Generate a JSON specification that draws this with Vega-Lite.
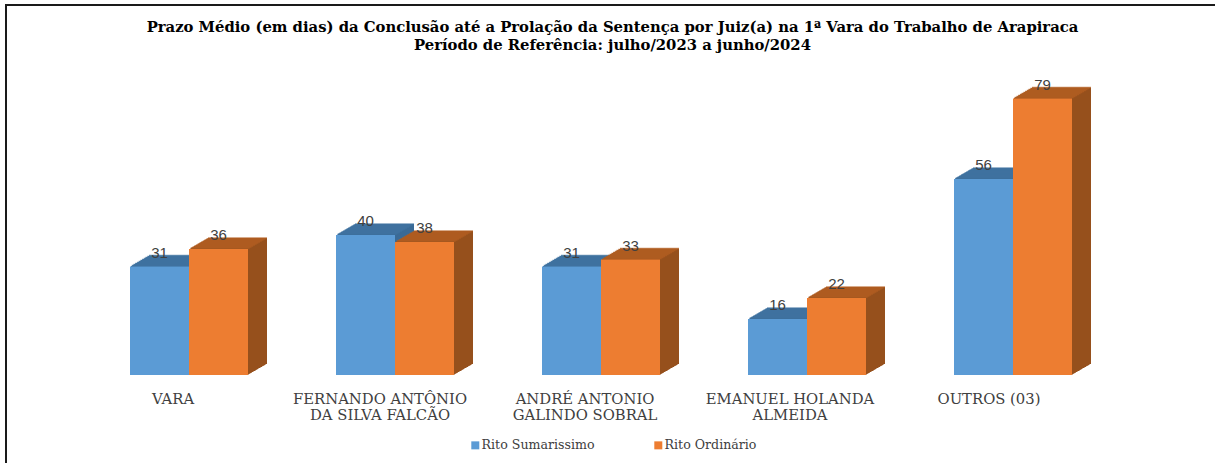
{"$schema":"https://vega.github.io/schema/vega-lite/v6.json","width":1215,"height":463,"autosize":"none","padding":{"left":6,"top":5,"right":0,"bottom":0},"background":"white","view":{"stroke":"#1a1a1a","strokeWidth":2,"fill":"white"},
"title":{"text":["Prazo Médio (em dias) da Conclusão até a Prolação da Sentença por Juiz(a) na 1ª Vara do Trabalho de Arapiraca","Período de Referência: julho/2023 a junho/2024"],"font":"DejaVu Serif","fontSize":14.8,"fontWeight":"bold","color":"#000000","anchor":"middle","dx":-1,"offset":-48,"lineHeight":18,"limit":1200},
"datasets":{"sum":[{"juiz":"VARA","rito":"Rito Sumarissimo","dias":31},{"juiz":"FERNANDO ANTÔNIO DA SILVA FALCÃO","rito":"Rito Sumarissimo","dias":40},{"juiz":"ANDRÉ ANTONIO GALINDO SOBRAL","rito":"Rito Sumarissimo","dias":31},{"juiz":"EMANUEL HOLANDA ALMEIDA","rito":"Rito Sumarissimo","dias":16},{"juiz":"OUTROS (03)","rito":"Rito Sumarissimo","dias":56}],"ord":[{"juiz":"VARA","rito":"Rito Ordinário","dias":36},{"juiz":"FERNANDO ANTÔNIO DA SILVA FALCÃO","rito":"Rito Ordinário","dias":38},{"juiz":"ANDRÉ ANTONIO GALINDO SOBRAL","rito":"Rito Ordinário","dias":33},{"juiz":"EMANUEL HOLANDA ALMEIDA","rito":"Rito Ordinário","dias":22},{"juiz":"OUTROS (03)","rito":"Rito Ordinário","dias":79}]},
"encoding":{"x":{"field":"juiz","type":"nominal","sort":["VARA","FERNANDO ANTÔNIO DA SILVA FALCÃO","ANDRÉ ANTONIO GALINDO SOBRAL","EMANUEL HOLANDA ALMEIDA","OUTROS (03)"],"title":null,"scale":{"range":[80,1110],"paddingInner":0.4272,"paddingOuter":0.2136},"axis":{"domain":false,"ticks":false,"grid":false,"offset":-85,"labelPadding":8,"labelAngle":0,"labelFont":"DejaVu Serif","labelFontSize":14.8,"labelColor":"#404040","labelLimit":0,"labelLineHeight":16,"labelBaseline":"top","labelExpr":"datum.label=='FERNANDO ANTÔNIO DA SILVA FALCÃO'?['FERNANDO ANTÔNIO','DA SILVA FALCÃO']:datum.label=='ANDRÉ ANTONIO GALINDO SOBRAL'?['ANDRÉ ANTONIO','GALINDO SOBRAL']:datum.label=='EMANUEL HOLANDA ALMEIDA'?['EMANUEL HOLANDA','ALMEIDA']:datum.label","labelOffset":{"condition":[{"test":"datum.value=='OUTROS (03)'","value":-24},{"test":"datum.value=='EMANUEL HOLANDA ALMEIDA'","value":-17},{"test":"datum.value=='FERNANDO ANTÔNIO DA SILVA FALCÃO'","value":-15}],"value":-16}}},"y":{"field":"dias","type":"quantitative","axis":null,"scale":{"domain":[0,105.7],"range":[370,0],"nice":false,"zero":true}}},
"layer":[
{"data":{"name":"sum"},"layer":[
{"mark":{"type":"bar","width":59,"xOffset":-10.5,"yOffset":-11,"color":"#3A6A96"}},{"mark":{"type":"bar","width":59,"xOffset":-11.5,"yOffset":-10.4,"color":"#3A6A96"}},{"mark":{"type":"bar","width":59,"xOffset":-12.5,"yOffset":-9.8,"color":"#3A6A96"}},{"mark":{"type":"bar","width":59,"xOffset":-13.5,"yOffset":-9.3,"color":"#3A6A96"}},{"mark":{"type":"bar","width":59,"xOffset":-14.5,"yOffset":-8.7,"color":"#3A6A96"}},{"mark":{"type":"bar","width":59,"xOffset":-15.5,"yOffset":-8.1,"color":"#3A6A96"}},{"mark":{"type":"bar","width":59,"xOffset":-16.5,"yOffset":-7.5,"color":"#3A6A96"}},{"mark":{"type":"bar","width":59,"xOffset":-17.5,"yOffset":-6.9,"color":"#3A6A96"}},{"mark":{"type":"bar","width":59,"xOffset":-18.5,"yOffset":-6.4,"color":"#3A6A96"}},{"mark":{"type":"bar","width":59,"xOffset":-19.5,"yOffset":-5.8,"color":"#3A6A96"}},{"mark":{"type":"bar","width":59,"xOffset":-20.5,"yOffset":-5.2,"color":"#3A6A96"}},{"mark":{"type":"bar","width":59,"xOffset":-21.5,"yOffset":-4.6,"color":"#3A6A96"}},{"mark":{"type":"bar","width":59,"xOffset":-22.5,"yOffset":-4.1,"color":"#3A6A96"}},{"mark":{"type":"bar","width":59,"xOffset":-23.5,"yOffset":-3.5,"color":"#3A6A96"}},{"mark":{"type":"bar","width":59,"xOffset":-24.5,"yOffset":-2.9,"color":"#3A6A96"}},{"mark":{"type":"bar","width":59,"xOffset":-25.5,"yOffset":-2.3,"color":"#3A6A96"}},{"mark":{"type":"bar","width":59,"xOffset":-26.5,"yOffset":-1.7,"color":"#3A6A96"}},{"mark":{"type":"bar","width":59,"xOffset":-27.5,"yOffset":-1.2,"color":"#3A6A96"}},{"mark":{"type":"bar","width":59,"xOffset":-28.5,"yOffset":-0.6,"color":"#3A6A96"}},
{"mark":{"type":"tick","orient":"horizontal","size":59,"thickness":1.5,"xOffset":-10.5,"yOffset":-11,"color":"#4275A3"}},{"mark":{"type":"tick","orient":"horizontal","size":59,"thickness":1.5,"xOffset":-12.2,"yOffset":-10,"color":"#4275A3"}},{"mark":{"type":"tick","orient":"horizontal","size":59,"thickness":1.5,"xOffset":-14,"yOffset":-9,"color":"#4275A3"}},{"mark":{"type":"tick","orient":"horizontal","size":59,"thickness":1.5,"xOffset":-15.7,"yOffset":-8,"color":"#4275A3"}},{"mark":{"type":"tick","orient":"horizontal","size":59,"thickness":1.5,"xOffset":-17.4,"yOffset":-7,"color":"#4275A3"}},{"mark":{"type":"tick","orient":"horizontal","size":59,"thickness":1.5,"xOffset":-19.1,"yOffset":-6,"color":"#4275A3"}},{"mark":{"type":"tick","orient":"horizontal","size":59,"thickness":1.5,"xOffset":-20.9,"yOffset":-5,"color":"#4275A3"}},{"mark":{"type":"tick","orient":"horizontal","size":59,"thickness":1.5,"xOffset":-22.6,"yOffset":-4,"color":"#4275A3"}},{"mark":{"type":"tick","orient":"horizontal","size":59,"thickness":1.5,"xOffset":-24.3,"yOffset":-3,"color":"#4275A3"}},{"mark":{"type":"tick","orient":"horizontal","size":59,"thickness":1.5,"xOffset":-26,"yOffset":-2,"color":"#4275A3"}},{"mark":{"type":"tick","orient":"horizontal","size":59,"thickness":1.5,"xOffset":-27.8,"yOffset":-1,"color":"#4275A3"}},
{"mark":{"type":"bar","width":59,"xOffset":-29.5},"encoding":{"color":{"field":"rito","type":"nominal","scale":{"domain":["Rito Sumarissimo","Rito Ordinário"],"range":["#5B9BD5","#ED7D31"]},"legend":{"title":null,"orient":"none","legendX":463,"legendY":434,"direction":"horizontal","columns":2,"symbolType":"square","symbolSize":64,"labelFont":"DejaVu Serif","labelFontSize":12.6,"labelColor":"#404040","columnPadding":57,"labelOffset":0,"labelLimit":0}}}}
]},
{"data":{"name":"ord"},"layer":[
{"mark":{"type":"bar","width":59,"xOffset":48.5,"yOffset":-11,"color":"#96501C"}},{"mark":{"type":"bar","width":59,"xOffset":47.5,"yOffset":-10.4,"color":"#96501C"}},{"mark":{"type":"bar","width":59,"xOffset":46.5,"yOffset":-9.8,"color":"#96501C"}},{"mark":{"type":"bar","width":59,"xOffset":45.5,"yOffset":-9.3,"color":"#96501C"}},{"mark":{"type":"bar","width":59,"xOffset":44.5,"yOffset":-8.7,"color":"#96501C"}},{"mark":{"type":"bar","width":59,"xOffset":43.5,"yOffset":-8.1,"color":"#96501C"}},{"mark":{"type":"bar","width":59,"xOffset":42.5,"yOffset":-7.5,"color":"#96501C"}},{"mark":{"type":"bar","width":59,"xOffset":41.5,"yOffset":-6.9,"color":"#96501C"}},{"mark":{"type":"bar","width":59,"xOffset":40.5,"yOffset":-6.4,"color":"#96501C"}},{"mark":{"type":"bar","width":59,"xOffset":39.5,"yOffset":-5.8,"color":"#96501C"}},{"mark":{"type":"bar","width":59,"xOffset":38.5,"yOffset":-5.2,"color":"#96501C"}},{"mark":{"type":"bar","width":59,"xOffset":37.5,"yOffset":-4.6,"color":"#96501C"}},{"mark":{"type":"bar","width":59,"xOffset":36.5,"yOffset":-4.1,"color":"#96501C"}},{"mark":{"type":"bar","width":59,"xOffset":35.5,"yOffset":-3.5,"color":"#96501C"}},{"mark":{"type":"bar","width":59,"xOffset":34.5,"yOffset":-2.9,"color":"#96501C"}},{"mark":{"type":"bar","width":59,"xOffset":33.5,"yOffset":-2.3,"color":"#96501C"}},{"mark":{"type":"bar","width":59,"xOffset":32.5,"yOffset":-1.7,"color":"#96501C"}},{"mark":{"type":"bar","width":59,"xOffset":31.5,"yOffset":-1.2,"color":"#96501C"}},{"mark":{"type":"bar","width":59,"xOffset":30.5,"yOffset":-0.6,"color":"#96501C"}},
{"mark":{"type":"tick","orient":"horizontal","size":59,"thickness":1.5,"xOffset":48.5,"yOffset":-11,"color":"#B55F22"}},{"mark":{"type":"tick","orient":"horizontal","size":59,"thickness":1.5,"xOffset":46.8,"yOffset":-10,"color":"#B55F22"}},{"mark":{"type":"tick","orient":"horizontal","size":59,"thickness":1.5,"xOffset":45,"yOffset":-9,"color":"#B55F22"}},{"mark":{"type":"tick","orient":"horizontal","size":59,"thickness":1.5,"xOffset":43.3,"yOffset":-8,"color":"#B55F22"}},{"mark":{"type":"tick","orient":"horizontal","size":59,"thickness":1.5,"xOffset":41.6,"yOffset":-7,"color":"#B55F22"}},{"mark":{"type":"tick","orient":"horizontal","size":59,"thickness":1.5,"xOffset":39.9,"yOffset":-6,"color":"#B55F22"}},{"mark":{"type":"tick","orient":"horizontal","size":59,"thickness":1.5,"xOffset":38.1,"yOffset":-5,"color":"#B55F22"}},{"mark":{"type":"tick","orient":"horizontal","size":59,"thickness":1.5,"xOffset":36.4,"yOffset":-4,"color":"#B55F22"}},{"mark":{"type":"tick","orient":"horizontal","size":59,"thickness":1.5,"xOffset":34.7,"yOffset":-3,"color":"#B55F22"}},{"mark":{"type":"tick","orient":"horizontal","size":59,"thickness":1.5,"xOffset":33,"yOffset":-2,"color":"#B55F22"}},{"mark":{"type":"tick","orient":"horizontal","size":59,"thickness":1.5,"xOffset":31.2,"yOffset":-1,"color":"#B55F22"}},
{"mark":{"type":"bar","width":59,"xOffset":29.5},"encoding":{"color":{"field":"rito","type":"nominal"}}}
]},
{"data":{"name":"sum"},"mark":{"type":"text","font":"Liberation Sans","fontSize":15,"color":"#404040","baseline":"middle","dy":-13.5,"xOffset":-29.5},"encoding":{"text":{"field":"dias","type":"quantitative"}}},
{"data":{"name":"ord"},"mark":{"type":"text","font":"Liberation Sans","fontSize":15,"color":"#404040","baseline":"middle","dy":-13.5,"xOffset":29.5},"encoding":{"text":{"field":"dias","type":"quantitative"}}}
]}
